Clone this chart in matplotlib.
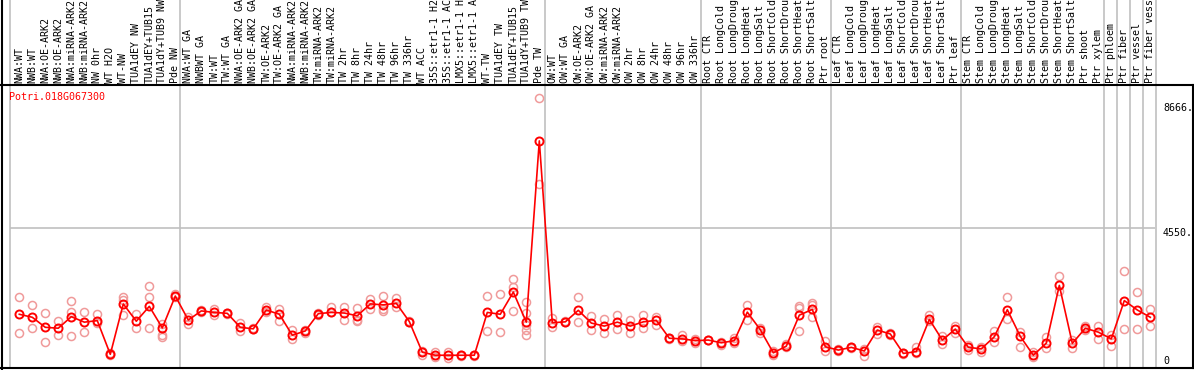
import matplotlib
matplotlib.use("Agg")
import matplotlib.pyplot as plt

gene = "Potri.018G067300"

# sample names (cut to 14 characters as in the original)
samples = [
    "NWA:WT", "NWB:WT", "NWA:OE-ARK2", "NWB:OE-ARK2", "NWA:miRNA-ARK2",
    "NWB:miRNA-ARK2", "NW 0hr", "WT H2O", "WT-NW", "TUA1dEY NW",
    "TUA1dEY+TUB15", "TUA1dY+TUB9 NW", "Pde NW",
    "NWA:WT GA", "NWBWT GA", "TW:WT", "TW:WT GA", "NWA:OE-ARK2 GA",
    "NWB:OE-ARK2 GA", "TW:OE-ARK2", "TW:OE-ARK2 GA", "NWA:miRNA-ARK2",
    "NWB:miRNA-ARK2", "TW:miRNA-ARK2", "TW:miRNA-ARK2", "TW 2hr", "TW 8hr",
    "TW 24hr", "TW 48hr", "TW 96hr", "TW 336hr", "WT ACC", "35S::etr1-1 H2",
    "35S::etr1-1 AC", "LMX5::etr1-1 H", "LMX5::etr1-1 A", "WT-TW",
    "TUA1dEY TW", "TUA1dEY+TUB15", "TUA1dY+TUB9 TW", "Pde TW",
    "OW:WT", "OW:WT GA", "OW:OE-ARK2", "OW:OE-ARK2 GA", "OW:miRNA-ARK2",
    "OW:miRNA-ARK2", "OW 2hr", "OW 8hr", "OW 24hr", "OW 48hr", "OW 96hr",
    "OW 336hr",
    "Root CTR", "Root LongCold", "Root LongDroug", "Root LongHeat",
    "Root LongSalt", "Root ShortCold", "Root ShortDrou", "Root ShortHeat",
    "Root ShortSalt", "Ptr root",
    "Leaf CTR", "Leaf LongCold", "Leaf LongDroug", "Leaf LongHeat",
    "Leaf LongSalt", "Leaf ShortCold", "Leaf ShortDrou", "Leaf ShortHeat",
    "Leaf ShortSalt", "Ptr leaf",
    "Stem CTR", "Stem LongCold", "Stem LongDroug", "Stem LongHeat",
    "Stem LongSalt", "Stem ShortCold", "Stem ShortDrou", "Stem ShortHeat",
    "Stem ShortSalt", "Ptr shoot", "Ptr xylem",
    "Ptr phloem", "Ptr fiber", "Ptr vessel", "Ptr fiber vess",
]

# mean expression per sample
means = [
    1710, 1610, 1280, 1250, 1630, 1450, 1500, 390, 2050, 1480, 1970, 1260, 2310,
    1520, 1820, 1770, 1740, 1280, 1230, 1850, 1710, 1020, 1160, 1730, 1770,
    1750, 1660, 2050, 2020, 2070, 1470, 460, 360, 360, 360, 360, 1770, 1710,
    2440, 1450, 7420,
    1430, 1460, 1840, 1420, 1320, 1450, 1320, 1460, 1510, 920, 900, 840,
    860, 770, 840, 1780, 1200, 440, 660, 1680, 1870, 640,
    530, 620, 500, 1190, 1060, 420, 480, 1540, 860, 1220,
    620, 570, 970, 1860, 980, 360, 760, 2660, 750, 1250, 1120,
    900, 2160, 1850, 1610,
]

# individual replicates per sample
reps = [
    [2270, 1080], [2020, 1250], [1740, 800], [1490, 1020], [2140, 1780, 990],
    [1780, 1120], [1720, 1410], [420, 360], [2270, 2180, 1680], [1720, 1270],
    [2630, 2270, 1250], [1390, 1030, 970], [2380, 2290],
    [1630, 1390], [1840, 1780], [1870, 1680], [1760, 1720], [1410, 1160],
    [1250, 1210], [1940, 1780], [1890, 1490], [1180, 890], [1190, 1080],
    [1760, 1700], [1940, 1800], [1940, 1520], [1930, 1520, 1480],
    [2200, 1870], [2310, 1880, 1820], [2240, 1960], [1490, 1450],
    [500, 370], [480, 310], [460, 260], [380, 340], [370, 350],
    [2310, 1170], [2370, 1140], [2870, 2620, 1810],
    [2120, 1740, 1360, 1190, 1030], [8820, 5990],
    [1580, 1300], [1480, 1440], [2280, 1460], [1650, 1190], [1550, 1080],
    [1690, 1220], [1520, 1100], [1680, 1260], [1630, 1360], [940, 900],
    [1020, 830], [910, 760],
    [870, 850], [810, 710], [940, 770], [2020, 1530], [1250, 1080],
    [500, 360], [730, 620], [1990, 1910, 1160], [2090, 2010, 1610], [840, 500],
    [560, 500], [640, 600], [560, 340], [1280, 1070], [1080, 1040],
    [440, 400], [640, 420], [1680, 1500], [990, 720], [1320, 1080],
    [700, 530], [640, 460], [1170, 810], [2280, 1550], [1140, 640],
    [470, 310], [970, 600], [2970, 2470], [860, 610], [1320, 1190],
    [1320, 890],
    [1030, 670], [3130, 1220], [2430, 1220], [1870, 1330],
]

# last sample index of each block
group_ends = [12, 40, 52, 62, 72, 83, 84, 85, 86, 87]

ytick_vals = [8666, 4550, 0]
ytick_text = ["8666.", "4550.", "0"]

W, H = 1194, 370
fig = plt.figure(figsize=(W / 100, H / 100), dpi=100)
ax = fig.add_axes([10 / W, (H - 368) / H, (1155 - 10) / W, (368 - 85) / H])

n = len(samples)
x = list(range(n))
ax.set_xlim(-0.715, 87.36)
ax.set_ylim(-60, 9260)
for s in ax.spines.values():
    s.set_visible(False)
ax.set_xticks([])
ax.set_yticks([])

grid_col = "#c0c0c0"
ext = (368 - 0) / (368 - 85)
ax.axvline(-0.715, ymin=0, ymax=ext, color=grid_col, lw=1.2, clip_on=False)
for g in group_ends:
    ax.axvline(g + 0.4, ymin=0, ymax=ext, color=grid_col, lw=1.2, clip_on=False)
ax.axhline(4550, color=grid_col, lw=1.2)

# replicates
for i, r in enumerate(reps):
    ax.plot([i] * len(r), r, "o", ms=5.8, mfc="none", mec="#f09a9a", mew=1.1,
            ls="none", zorder=2)

# mean line
ax.plot(x, means, "-o", color="#ff0000", lw=1.2, ms=5.8, mfc="none",
        mec="#ff0000", mew=1.4, zorder=3)

mono = "DejaVu Sans Mono"
for i, s in enumerate(samples):
    ax.annotate(s, (i, 1), xycoords=("data", "axes fraction"),
                xytext=(0, 2), textcoords="offset pixels",
                rotation=90, ha="center", va="bottom",
                fontsize=7.2, family=mono, annotation_clip=False)

fig.text(9 / W, 1 - 97 / H, gene, color="#ff0000", fontsize=7.2,
         family=mono, va="center", ha="left")

for v, t in zip(ytick_vals, ytick_text):
    ax.annotate(t, (1, v), xycoords=("axes fraction", "data"),
                xytext=(8, 0), textcoords="offset pixels",
                ha="left", va="bottom" if v == 0 else "top",
                fontsize=7.2, family=mono, annotation_clip=False)

# frame
fig.add_artist(plt.Line2D([1.5 / W, 1.5 / W], [0, 1], color="black", lw=1.5))
fig.add_artist(plt.Line2D([1 - 1.5 / W, 1 - 1.5 / W], [(H - 368) / H, (H - 85) / H],
                          color="black", lw=1.5))
fig.add_artist(plt.Line2D([0, 1], [(H - 85) / H] * 2, color="black", lw=1.5))
fig.add_artist(plt.Line2D([0, 1], [(H - 368) / H] * 2, color="black", lw=1.5))

fig.savefig("out.png", dpi=100)
